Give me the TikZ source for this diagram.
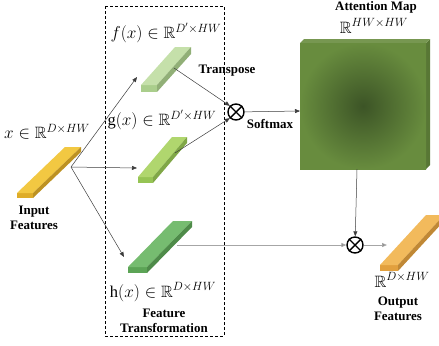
\documentclass[tikz,border=0pt]{standalone}
\usepackage{amssymb}
\usepackage{fontspec}
\setmainfont{Liberation Serif}
\usetikzlibrary{arrows.meta}

\definecolor{inTop}{RGB}{242,200,66}
\definecolor{inSide}{RGB}{222,172,40}
\definecolor{fTop}{RGB}{197,224,170}
\definecolor{fSide}{RGB}{170,206,140}
\definecolor{gTop}{RGB}{176,214,110}
\definecolor{gSide}{RGB}{150,196,84}
\definecolor{hTop}{RGB}{118,188,112}
\definecolor{hSide}{RGB}{92,164,86}
\definecolor{oTop}{RGB}{242,186,92}
\definecolor{oSide}{RGB}{226,160,62}
\definecolor{attOut}{RGB}{104,140,62}
\definecolor{attIn}{RGB}{60,84,38}
\definecolor{lineC}{RGB}{60,60,60}

% #1 x0, #2 y0 (front bottom-left), #3 w, #4 t, #5 dx, #6 dy, #7 top colour, #8 side colour
\newcommand\drawprism[8]{%
  \fill[#8] (#1,#2) rectangle ++(#3,-#4);
  \fill[#7] (#1,{#2-#4}) -- ++(#3,0) -- ++(#5,#6) -- ++(-#3,0) -- cycle;
  \fill[#8!85!black] ({#1+#3},#2) -- ++(0,-#4) -- ++(#5,#6) -- ++(0,#4) -- cycle;
}

\tikzset{
  conn/.style={draw=lineC, line width=0.5bp, -{Triangle[length=5bp,width=4bp]}},
  gconn/.style={draw=gray!70, line width=1bp, -{Triangle[length=5bp,width=4bp,fill=lineC]}},
  lbl/.style={font=\fontsize{13}{15}\selectfont\bfseries, inner sep=0pt, align=center},
  mlbl/.style={font=\fontsize{16.5}{18}\selectfont, inner sep=0pt},
  otimesnode/.style={circle, draw=black, line width=1.4bp, minimum size=16bp, inner sep=0pt},
}

\begin{document}
\begin{tikzpicture}[x=1bp, y=-1bp]
\useasboundingbox (0,0) rectangle (439,345);
\clip (0,0) rectangle (439,345);

% dashed feature transformation box
\draw[dashed, line width=0.7bp, dash pattern=on 3bp off 2bp] (105,6) rectangle (224,336);

% bars
\drawprism{17}{198}{16}{5}{48}{-46}{inTop}{inSide}
\drawprism{141}{92}{16}{7}{34}{-38}{fTop}{fSide}
\drawprism{138}{183}{15}{6}{34}{-40}{gTop}{gSide}
\drawprism{128}{273}{19}{6}{45}{-46}{hTop}{hSide}
\drawprism{380}{271}{18}{6}{46}{-50}{oTop}{oSide}

% attention map
\fill[attOut!85!black] (426,43) -- (430,39) -- (430,165) -- (426,169) -- cycle;
\fill[attOut!90!white] (300,43) -- (304,39) -- (430,39) -- (426,43) -- cycle;
\shade[inner color=attIn, outer color=attOut] (300,43) rectangle (426,169);
\coordinate (attW) at (300,111);
\coordinate (attS) at (357,169);

% coordinates on bars
\coordinate (inP) at (71,167);
\coordinate (fIn) at (137,77);
\coordinate (gIn) at (137,168);
\coordinate (hIn) at (124,257);
\coordinate (fOut) at (174,68);
\coordinate (gOut) at (175,153);
\coordinate (hOut) at (177,245);
\coordinate (oIn) at (387,245);

% otimes nodes
\node[otimesnode] (m1) at (236,112) {};
\draw[line width=1.4bp] (m1.north west) -- (m1.south east) (m1.north east) -- (m1.south west);
\node[otimesnode] (m2) at (355,245) {};
\draw[line width=1.4bp] (m2.north west) -- (m2.south east) (m2.north east) -- (m2.south west);

% connectors
\draw[conn] (inP) -- (fIn);
\draw[conn] (inP) -- (gIn);
\draw[conn] (inP) -- (hIn);
\draw[conn] (fOut) -- (m1.north west);
\draw[conn] (gOut) -- (m1.south west);
\draw[conn] (m1) -- (attW);
\draw[conn] (attS) -- (m2);
\draw[gconn] (hOut) -- (m2);
\draw[gconn] (m2) -- (oIn);

% labels
\node[mlbl] (lf) at (166,33) {$f(x)\in\mathbb{R}^{D'\times HW}$};
\node[mlbl] (lg) at (162,120) {$\mathrm{g}(x)\in\mathbb{R}^{D'\times HW}$};
\node[mlbl] (lh) at (163,292) {$\mathrm{h}(x)\in\mathbb{R}^{D\times HW}$};
\node[mlbl] (lx) at (47,132) {$x\in\mathbb{R}^{D\times HW}$};
\node[mlbl] (la) at (374,26) {$\mathbb{R}^{HW\times HW}$};
\node[mlbl] (lo) at (402,280) {$\mathbb{R}^{D\times HW}$};

\node[lbl] (tin) at (34,218) {Input\\Features};
\node[lbl] (tft) at (164,321) {Feature\\Transformation};
\node[lbl] (ttr) at (227,71) {Transpose};
\node[lbl] (tsm) at (270,124) {Softmax};
\node[lbl] (tam) at (376,7) {Attention Map};
\node[lbl] (tof) at (398,309) {Output\\Features};
\end{tikzpicture}
\end{document}
